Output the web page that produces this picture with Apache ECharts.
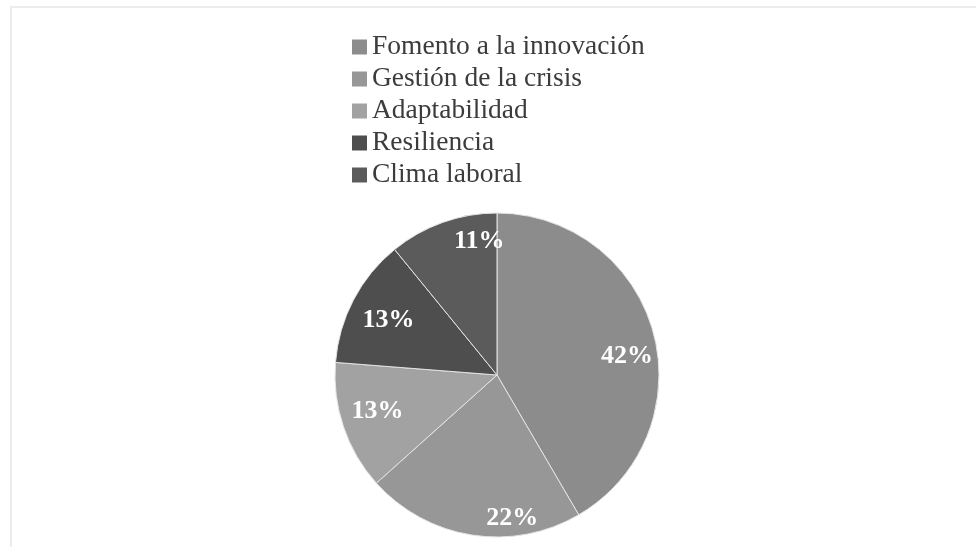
<!DOCTYPE html>
<html>
<head>
<meta charset="utf-8">
<script src="https://cdn.jsdelivr.net/npm/echarts@6/dist/echarts.min.js"></script>
<style>
  html, body { margin: 0; padding: 0; background: #ffffff; }
  #chart { width: 976px; height: 547px; }
</style>
</head>
<body>
<div id="chart"></div>
<script>
// Share of responses per leadership dimension (percent)
const categories = ['Fomento a la innovación', 'Gestión de la crisis', 'Adaptabilidad', 'Resiliencia', 'Clima laboral'];
const shares = [42, 22, 13, 13, 11];
const sliceColors = ['#8c8c8c', '#979797', '#a2a2a2', '#4e4e4e', '#5b5b5b'];

// Label placement inside each slice: [fraction of radius, angular shift in degrees]
const labelPlacement = [[0.81, 7], [0.89, -15], [0.77, 2], [0.75, -1], [0.83, 12]];

const CX = 497, CY = 375, R = 162;

const chart = echarts.init(document.getElementById('chart'), null, { renderer: 'canvas' });

chart.setOption({
  animation: false,
  backgroundColor: '#ffffff',
  color: sliceColors,
  graphic: [
    { type: 'line', shape: { x1: 10, y1: 7, x2: 976, y2: 7 }, style: { stroke: '#ececec', lineWidth: 2 } },
    { type: 'line', shape: { x1: 11, y1: 7, x2: 11, y2: 547 }, style: { stroke: '#ececec', lineWidth: 2 } }
  ],
  legend: {
    orient: 'vertical',
    left: 352,
    top: 33,
    padding: 0,
    itemWidth: 15,
    itemHeight: 15,
    itemGap: 4,
    icon: 'rect',
    itemStyle: { borderWidth: 0 },
    data: categories,
    textStyle: {
      fontFamily: '"Liberation Serif", "DejaVu Serif", serif',
      fontSize: 27.5,
      lineHeight: 27,
      color: '#3c3c3c'
    }
  },
  series: [{
    type: 'pie',
    center: [CX, CY],
    radius: R,
    startAngle: 90,
    clockwise: true,
    avoidLabelOverlap: false,
    itemStyle: { borderColor: '#e4e4e4', borderWidth: 1 },
    label: {
      show: true,
      position: 'inside',
      formatter: p => p.value + '%',
      color: '#ffffff',
      fontFamily: '"Liberation Serif", "DejaVu Serif", serif',
      fontWeight: 'bold',
      fontSize: 26
    },
    labelLine: { show: false },
    labelLayout: function (params) {
      const rect = params.labelRect;
      const lx = rect.x + rect.width / 2;
      const ly = rect.y + rect.height / 2;
      const theta = Math.atan2(lx - CX, -(ly - CY));
      const pl = labelPlacement[params.dataIndex];
      const t = theta + pl[1] * Math.PI / 180;
      const r = pl[0] * R;
      return { x: CX + r * Math.sin(t), y: CY - r * Math.cos(t) };
    },
    emphasis: { disabled: true },
    data: categories.map((name, i) => ({ name: name, value: shares[i] }))
  }]
});
</script>
</body>
</html>
